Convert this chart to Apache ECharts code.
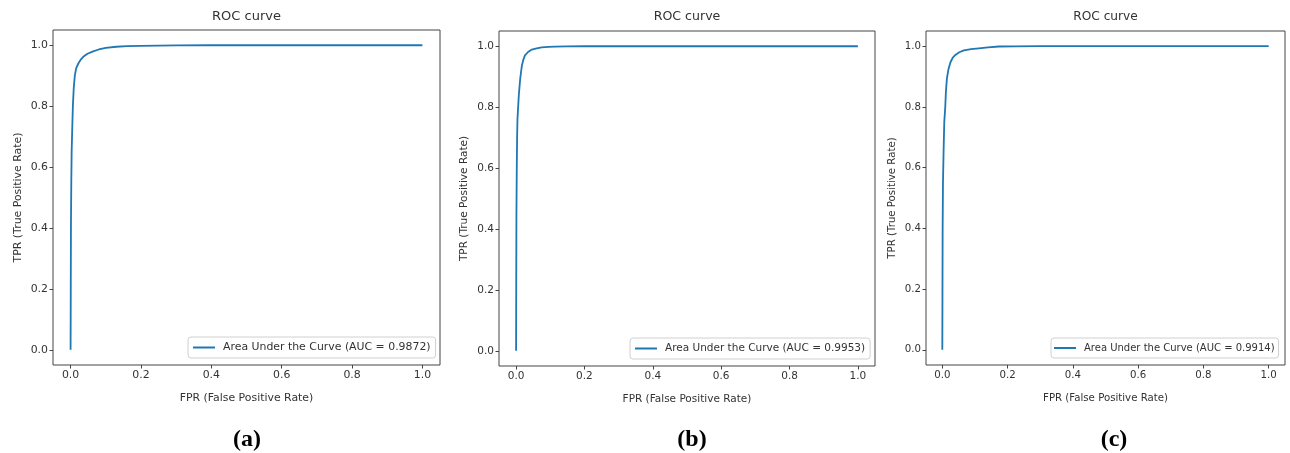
<!DOCTYPE html>
<html>
<head>
<meta charset="utf-8">
<script src="https://cdn.jsdelivr.net/npm/echarts@6/dist/echarts.min.js"></script>
<style>
html,body{margin:0;padding:0;background:#fff;}
#chart{width:1290px;height:453px;}
</style>
</head>
<body>
<div id="chart"></div>
<script>
// ---- data ----
const tickValues = [0, 0.2, 0.4, 0.6, 0.8, 1.0];
const panelTitles = ['ROC curve', 'ROC curve', 'ROC curve'];
const captions = ['(a)', '(b)', '(c)'];
const seriesNames = [
  'Area Under the Curve (AUC = 0.9872)',
  'Area Under the Curve (AUC = 0.9953)',
  'Area Under the Curve (AUC = 0.9914)'
];
const fprA = [0, 0.0005, 0.001, 0.002, 0.003, 0.005, 0.0065, 0.009, 0.012, 0.016, 0.022, 0.029, 0.036, 0.048, 0.064, 0.08, 0.1, 0.13, 0.16, 0.2, 0.25, 0.3, 0.4, 0.6, 0.8, 1.0];
const tprA = [0, 0.2, 0.4, 0.55, 0.65, 0.74, 0.80, 0.86, 0.90, 0.925, 0.94, 0.953, 0.962, 0.972, 0.98, 0.986, 0.991, 0.995, 0.997, 0.998, 0.999, 0.9995, 1, 1, 1, 1];
const fprB = [0, 0.0005, 0.001, 0.002, 0.003, 0.004, 0.006, 0.008, 0.012, 0.017, 0.021, 0.026, 0.035, 0.046, 0.06, 0.075, 0.095, 0.114, 0.15, 0.2, 0.3, 0.5, 1.0];
const tprB = [0, 0.25, 0.45, 0.6, 0.7, 0.76, 0.8, 0.84, 0.893, 0.937, 0.955, 0.970, 0.981, 0.989, 0.993, 0.996, 0.998, 0.999, 0.9995, 1, 1, 1, 1];
const fprC = [0, 0.0005, 0.001, 0.002, 0.004, 0.006, 0.009, 0.011, 0.014, 0.019, 0.025, 0.032, 0.04, 0.052, 0.066, 0.088, 0.112, 0.14, 0.173, 0.22, 0.3, 0.5, 1.0];
const tprC = [0, 0.2, 0.4, 0.55, 0.66, 0.75, 0.80, 0.85, 0.893, 0.925, 0.947, 0.962, 0.971, 0.98, 0.986, 0.99, 0.993, 0.996, 0.999, 0.9995, 1, 1, 1];

// ---- layout ----
const grids = [
  {left: 53, top: 30, width: 387, height: 335},
  {left: 499, top: 31, width: 376, height: 335},
  {left: 926, top: 31, width: 359, height: 334}
];
const fontScale = [10.9, 10.5, 10.2];
const legendFont = [10.9, 10.5, 10.0];
const titleSize = [13, 12.6, 12.2];
const legendPos = [
  {left: 188, top: 337, padding: [5, 5, 5, 5]},
  {left: 630, top: 338, padding: [5, 5, 5, 5]},
  {left: 1051, top: 338, padding: [5, 4, 5, 3]}
];
const captionX = [247, 692, 1114];
const fprs = [fprA, fprB, fprC];
const tprs = [tprA, tprB, tprC];

const font = 'DejaVu Sans';
const chart = echarts.init(document.getElementById('chart'), null, {renderer: 'canvas'});

const option = {
  animation: false,
  backgroundColor: '#fff',
  grid: grids.map(g => Object.assign({show: true, borderColor: '#444', borderWidth: 1, backgroundColor: 'transparent'}, g)),
  xAxis: grids.map((g, i) => ({
    type: 'value', gridIndex: i, min: -0.05, max: 1.05,
    name: 'FPR (False Positive Rate)', nameLocation: 'middle', nameGap: 28,
    nameTextStyle: {fontFamily: font, fontSize: fontScale[i], color: '#333'},
    axisLine: {show: false, onZero: false},
    splitLine: {show: false},
    axisTick: {show: true, inside: false, length: 3.5, customValues: tickValues, lineStyle: {color: '#444'}},
    axisLabel: {customValues: tickValues, formatter: v => v.toFixed(1), margin: 5,
      fontFamily: font, fontSize: fontScale[i], color: '#333'}
  })),
  yAxis: grids.map((g, i) => ({
    type: 'value', gridIndex: i, min: -0.05, max: 1.05,
    name: 'TPR (True Positive Rate)', nameLocation: 'middle', nameGap: 29, nameRotate: 90,
    nameTextStyle: {fontFamily: font, fontSize: fontScale[i], color: '#333'},
    axisLine: {show: false, onZero: false},
    splitLine: {show: false},
    axisTick: {show: true, inside: false, length: 3.5, customValues: tickValues, lineStyle: {color: '#444'}},
    axisLabel: {customValues: tickValues, formatter: v => v.toFixed(1), margin: 5,
      fontFamily: font, fontSize: fontScale[i], color: '#333'}
  })),
  legend: grids.map((g, i) => ({
    data: [seriesNames[i]],
    left: legendPos[i].left, top: legendPos[i].top,
    orient: 'vertical',
    padding: legendPos[i].padding,
    borderColor: '#d0d0d0', borderWidth: 1, borderRadius: 3,
    backgroundColor: 'rgba(255,255,255,0.85)',
    icon: 'rect', itemWidth: 22, itemHeight: 2,
    textStyle: {fontFamily: font, fontSize: legendFont[i], color: '#333', padding: [0, 0, 0, 3]},
    selectedMode: false
  })),
  series: grids.map((g, i) => ({
    type: 'line', name: seriesNames[i], xAxisIndex: i, yAxisIndex: i,
    data: fprs[i].map((x, k) => [x, tprs[i][k]]),
    showSymbol: false, symbol: 'none',
    lineStyle: {color: '#1f77b4', width: 1.8},
    itemStyle: {color: '#1f77b4'},
    smooth: false
  })),
  graphic: grids.map((g, i) => ({
    type: 'text', x: g.left + g.width / 2, y: 17,
    style: {text: panelTitles[i], fontFamily: font, fontSize: titleSize[i], fill: '#333', align: 'center', verticalAlign: 'middle'}
  })).concat(captionX.map((cx, i) => ({
    type: 'text', x: cx, y: 440,
    style: {text: captions[i], fontFamily: 'Liberation Serif', fontWeight: 'bold', fontSize: 24, fill: '#000', align: 'center', verticalAlign: 'middle'}
  })))
};
chart.setOption(option);
</script>
</body>
</html>
